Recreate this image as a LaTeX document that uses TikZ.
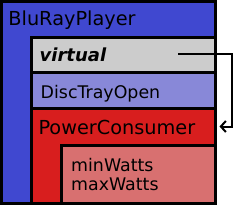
\documentclass[tikz,border=0pt]{standalone}
\usepackage{fontspec}
\setmainfont{DejaVu Sans}
\usetikzlibrary{arrows.meta,positioning}
\definecolor{pblue}{HTML}{4048D0}
\definecolor{pgray}{HTML}{CCCCCC}
\definecolor{plilac}{HTML}{8888D8}
\definecolor{pred}{HTML}{D81E1E}
\definecolor{ppink}{HTML}{D87070}
\tikzset{
  box/.style={draw=black, line width=3pt, rectangle, anchor=north west,
              inner sep=0pt, outer sep=0pt},
  title/.style={anchor=base west, inner sep=0pt,
                font=\fontsize{19.3}{23}\selectfont},
  field/.style={anchor=base west, inner sep=0pt,
                font=\fontsize{17.4}{20}\selectfont},
  flow/.style={line width=2pt, -{Straight Barb[length=5pt,width=11pt]}}
}

\begin{document}
\begin{tikzpicture}[x=1pt, y=-1pt]
\useasboundingbox (0,0) rectangle (237,205);
% ---- outer class --------------------------------------------------
\node[box, fill=pblue, minimum width=214pt, minimum height=202pt]
      (player) at (1.5,1.5) {};
\node[title] (playertxt) at (8.2,25.7) {BluRayPlayer};
% ---- virtual row --------------------------------------------------
\node[box, fill=pgray, minimum width=184pt, minimum height=35pt]
      (virt) at (31.5,37.5) {};
\node[anchor=base west, inner sep=0pt,
      font=\fontsize{18}{20}\selectfont\bfseries\itshape]
      (virttxt) at (39.5,62) {virtual};
% ---- disc tray row ------------------------------------------------
\node[box, fill=plilac, minimum width=184pt, minimum height=36.5pt]
      (disc) at (31.5,72.5) {};
\node[field] (disctxt) at (40.5,98.3) {DiscTrayOpen};
% ---- power consumer -----------------------------------------------
\node[box, fill=pred, minimum width=184pt, minimum height=94.5pt]
      (power) at (31.5,109) {};
\node[title] (powertxt) at (38.3,134.3) {PowerConsumer};
% ---- watts fields -------------------------------------------------
\node[box, fill=ppink, minimum width=154pt, minimum height=58pt]
      (watts) at (61.5,145.5) {};
\node[anchor=west, inner sep=0pt, align=left,
      font=\fontsize{17.4}{19.7}\selectfont]
      (wattstxt) at (71,174.5) {minWatts\\maxWatts};
% ---- link from virtual to power consumer --------------------------
\coordinate (vout) at (178,54.5);
\coordinate (pin) at (219.5,126.5);
\draw[flow] (vout) -- ++(54,0) |- (pin);
\end{tikzpicture}
\end{document}
